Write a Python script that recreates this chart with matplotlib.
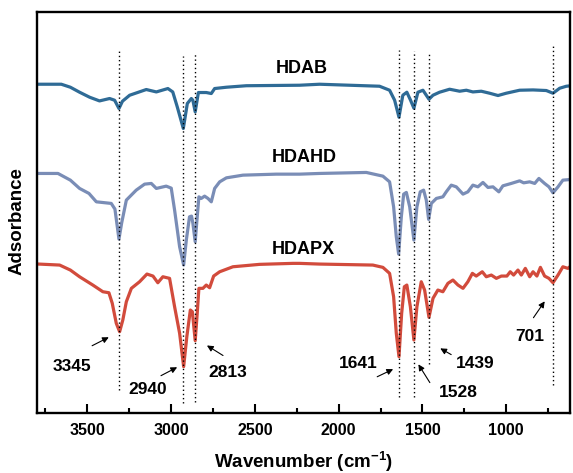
import matplotlib
matplotlib.use("Agg")
import matplotlib.pyplot as plt

plt.rcParams['font.family'] = ['Liberation Sans', 'DejaVu Sans']
plt.rcParams['font.weight'] = 'bold'
plt.rcParams['mathtext.default'] = 'regular'

# wavenumber (cm-1) and absorbance (arbitrary, offset)
hdab_w = [3790, 3655, 3601, 3546, 3486, 3427, 3367, 3337, 3311, 3290, 3247, 3148, 3088,
          3019, 2990, 2963, 2927, 2903, 2879, 2870, 2856, 2837, 2790, 2760, 2740,
          2670, 2551, 2233, 2114, 1756, 1696, 1666, 1640, 1617, 1593, 1571, 1551,
          1527, 1497, 1477, 1461, 1437, 1398, 1338, 1278, 1238, 1199, 1149, 1099,
          1049, 1000, 920, 840, 761, 721, 681, 641, 612]
hdab_a = [329, 329, 326, 321, 316, 312.3, 314.7, 313, 304.7, 312, 318, 323.7, 321.3,
          324.7, 321.3, 306.3, 284.7, 309.7, 314.7, 313, 301.3, 320.7, 320.7, 319.7, 324.7,
          326, 327.5, 328, 329, 327, 323, 313, 296, 318, 321, 313, 305,
          321, 323, 318, 314, 318, 321, 324, 322, 323, 321.3, 322, 320,
          317.7, 320, 323, 323.3, 322.7, 320, 325, 327, 327.5]

hdahd_w = [3790, 3675, 3601, 3546, 3490, 3446, 3357, 3335, 3327, 3311, 3295, 3267,
           3208, 3158, 3118, 3088, 3029, 2999, 2979, 2949, 2925, 2909, 2890, 2878,
           2870, 2856, 2844, 2834, 2820, 2800, 2780, 2760, 2740, 2710, 2670, 2571,
           2372, 2233, 2114, 1835, 1736, 1696, 1672, 1656, 1642, 1626, 1612, 1596,
           1576, 1551, 1533, 1513, 1493, 1477, 1463, 1447, 1417, 1378, 1358, 1328,
           1298, 1258, 1229, 1199, 1169, 1139, 1109, 1079, 1044, 1020, 970, 920,
           896, 860, 830, 805, 771, 745, 721, 691, 662, 612]
hdahd_a = [239.7, 239.7, 233, 224.7, 219.7, 211.3, 209.7, 204, 194, 174, 190, 213,
           223, 229, 229.7, 224.7, 227, 225, 203, 166.3, 148, 173, 196.3, 197,
           190, 171.3, 196.3, 216.3, 214.7, 217, 214.7, 211.3, 224.7, 231.3, 235.3, 238,
           239, 239, 239.7, 240.7, 237, 231.3, 206.3, 176.3, 159, 196.3, 219, 220.7,
           206.3, 173, 206.3, 221.3, 223, 213, 193.7, 209.7, 214.7, 216.3, 221.3, 228,
           226.3, 219, 221.3, 228, 226.3, 230.7, 225.7, 226.3, 221.3, 227.3, 229.7, 232.3,
           230.3, 231.3, 229.7, 234.7, 229.7, 226.3, 220.3, 226.3, 233, 233.7]

hdapx_w = [3790, 3665, 3601, 3546, 3467, 3407, 3371, 3351, 3327, 3307, 3288, 3267, 3237,
           3188, 3144, 3108, 3079, 3049, 3009, 2979, 2949, 2925, 2906, 2885, 2873,
           2856, 2844, 2834, 2810, 2790, 2770, 2746, 2710, 2631, 2472, 2273, 2233,
           2114, 1796, 1736, 1696, 1672, 1656, 1640, 1624, 1608, 1593, 1572, 1551,
           1533, 1507, 1487, 1461, 1437, 1408, 1378, 1348, 1318, 1288, 1258, 1229,
           1202, 1179, 1143, 1119, 1089, 1059, 1029, 996, 976, 956, 930, 910,
           886, 860, 840, 817, 796, 771, 745, 721, 691, 662, 632, 608]
hdapx_a = [149, 148, 143, 136.3, 128, 121.3, 120.3, 109.7, 89.7, 81.3, 93, 111.3, 124.7,
           131.3, 139, 137, 130.3, 136.3, 134.7, 106.3, 79.7, 46.3, 76.3, 103, 101.3,
           72.3, 99.7, 124.7, 124.7, 128, 125.3, 137, 141.3, 146.3, 148.7, 149.7, 149.7,
           149, 148, 145.7, 139.7, 116.3, 79.7, 56.3, 99.7, 126.3, 128, 106.3, 73,
           106.3, 131.3, 123, 95.7, 114.7, 123, 121.3, 129.7, 133, 128, 124.7, 131.3,
           139.7, 137, 141.3, 136.3, 138, 134.7, 137, 137, 141.3, 138, 143, 138,
           144.7, 136.3, 141.3, 137, 145.7, 137, 134.7, 130.3, 138, 146.3, 144.7, 148]

names = ['HDAB', 'HDAHD', 'HDAPX']
colors = ['#2f6b96', '#7a8db6', '#d24b3c']

# dotted guide lines: position, top, bottom
guide_w = [3311, 2927, 2856, 1640, 1551, 1461, 721]
guide_top = [363, 357, 359, 363, 362, 360, 369]
guide_bot = [23, 10, 11, 16, 16, 49, 28]

# peak labels: text, text position, arrow tail, arrow head
peak_text = ['3345', '2940', '2813', '1641', '1528', '1439', '701']
peak_txt_xy = [(3590, 46), (3138, 23), (2661, 40), (1885, 49), (1288, 20), (1183, 49), (860, 76)]
peak_tail = [(3486, 66), (3075, 36), (2676, 56), (1785, 35), (1447, 28), (1314, 57), (847, 93)]
peak_head = [(3357, 77), (2949, 47), (2800, 69), (1660, 45), (1533, 51), (1408, 66), (761, 114)]

name_xy = [(2223, 345), (2203, 256), (2213, 164)]

fig = plt.figure(figsize=(5.73, 4.73), dpi=100)
ax = fig.add_axes([0.0646, 0.127, 0.930, 0.847])

for w, a, c in zip([hdab_w, hdahd_w, hdapx_w], [hdab_a, hdahd_a, hdapx_a], colors):
    ax.plot(w, a, color=c, lw=2.3, solid_joinstyle='round')

ax.vlines(guide_w, guide_bot, guide_top, colors='black', linestyles=(0, (1, 2)), lw=1.0)

for n, (x, y) in zip(names, name_xy):
    ax.text(x, y, n, ha='center', va='center', fontsize=13, fontweight='bold')

for t, txy, tail, head in zip(peak_text, peak_txt_xy, peak_tail, peak_head):
    ax.text(txy[0], txy[1], t, ha='center', va='center', fontsize=12.5, fontweight='bold')
    ax.annotate('', xy=head, xytext=tail,
                arrowprops=dict(arrowstyle='-|>', color='black', lw=0.8, mutation_scale=9))

ax.set_xlim(3800, 620)
ax.set_ylim(0, 401)
ax.set_xticks([3500, 3000, 2500, 2000, 1500, 1000])
ax.set_xticks([3750, 3250, 2750, 2250, 1750, 1250, 750], minor=True)
ax.set_yticks([])
ax.tick_params(axis='x', which='major', direction='in', length=6.5, width=1.5,
               labelsize=11.5, pad=7)
ax.tick_params(axis='x', which='minor', direction='in', length=3.5, width=1.5)
for lbl in ax.get_xticklabels():
    lbl.set_fontweight('bold')
for s in ax.spines.values():
    s.set_linewidth(1.7)

ax.set_xlabel('Wavenumber (cm$^{-1}$)', fontsize=13.5, fontweight='bold', labelpad=9)
ax.set_ylabel('Adsorbance', fontsize=13.5, fontweight='bold')
ax.yaxis.set_label_coords(-0.021, 0.48)

fig.savefig('out.png', dpi=100)
